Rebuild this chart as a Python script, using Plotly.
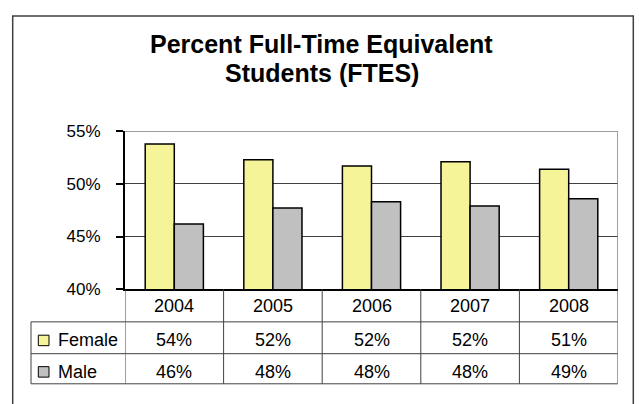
import plotly.graph_objects as go

# ---- data ----
years = ["2004", "2005", "2006", "2007", "2008"]
female = [53.8, 52.3, 51.7, 52.1, 51.4]
male = [46.2, 47.7, 48.3, 47.9, 48.6]
series_names = ["Female", "Male"]
series_colors = ["#F6F498", "#C0C0C0"]
title_lines = ["Percent Full-Time Equivalent", "Students (FTES)"]
y_ticks = [40, 45, 50, 55]

W, H = 639, 404
FONT = "Liberation Sans, Arial, sans-serif"


def px(x):
    return x / W


def py(y):
    return (H - y) / H


fig = go.Figure()
series = [female, male]
for name, vals, col in zip(series_names, series, series_colors):
    fig.add_trace(go.Bar(
        x=years, y=vals, name=name,
        marker=dict(color=col, line=dict(color="black", width=1.5)),
        hovertemplate="%{x}: %{y:.1f}%<extra>" + name + "</extra>",
    ))

n = len(years)
shapes = []
annotations = []

# plot-area top/right border (gray)
shapes.append(dict(type="line", xref="x", yref="y", x0=-0.5, x1=n - 0.5, y0=y_ticks[-1], y1=y_ticks[-1],
                   line=dict(color="#808080", width=1.5), layer="above"))
shapes.append(dict(type="line", xref="x", yref="y", x0=n - 0.5, x1=n - 0.5, y0=y_ticks[0], y1=y_ticks[-1],
                   line=dict(color="#808080", width=1.5), layer="above"))

# outer chart border (open at bottom)
bx0, bx1, by0 = px(12.7), px(633.3), py(7.3)
shapes.append(dict(type="path", xref="paper", yref="paper",
                   path=f"M {bx0},-0.05 L {bx0},{by0} L {bx1},{by0} L {bx1},-0.05",
                   line=dict(color="#404040", width=1.5)))

# data table
t_top, r1, r2, r3 = 294, 328.3, 361.7, 393.3
tcol = "#404040"
for k in range(n + 1):
    shapes.append(dict(type="line", xref="x", yref="paper", x0=k - 0.5, x1=k - 0.5,
                       y0=py(t_top), y1=py(r3), line=dict(color=tcol, width=1)))
shapes.append(dict(type="line", xref="paper", yref="paper", x0=px(31), x1=px(31),
                   y0=py(r1), y1=py(r3), line=dict(color=tcol, width=1)))
for yy in (r1, r2, r3):
    shapes.append(dict(type="line", xref="paper", yref="paper", x0=px(31), x1=px(617.7),
                       y0=py(yy), y1=py(yy), line=dict(color=tcol, width=1)))

row_centers = [347.8, 380.8]
for i, y in enumerate(years):
    annotations.append(dict(xref="x", yref="paper", x=i, y=py(311.7), text=y, showarrow=False,
                            xanchor="center", yanchor="middle", font=dict(family=FONT, size=18, color="black")))
for name, vals, col, rc in zip(series_names, series, series_colors, row_centers):
    shapes.append(dict(type="rect", xref="paper", yref="paper", x0=px(38.3), x1=px(49),
                       y0=py(rc + 5.5), y1=py(rc - 5.5), fillcolor=col, line=dict(color="black", width=1)))
    annotations.append(dict(xref="paper", yref="paper", x=px(56), y=py(rc), text=name, showarrow=False,
                            xanchor="left", yanchor="middle", font=dict(family=FONT, size=18, color="black")))
    for i, v in enumerate(vals):
        annotations.append(dict(xref="x", yref="paper", x=i, y=py(rc), text=f"{v:.0f}%", showarrow=False,
                                xanchor="center", yanchor="middle",
                                font=dict(family=FONT, size=18, color="black")))

# title
for line, yc in zip(title_lines, [36.3, 66.7]):
    annotations.append(dict(xref="paper", yref="paper", x=px(321.7), y=py(yc), text=line, showarrow=False,
                            xanchor="center", yanchor="middle",
                            font=dict(family=FONT, size=25, color="black", weight="bold")))

fig.update_layout(
    width=W, height=H, autosize=False,
    margin=dict(l=0, r=0, t=0, b=0),
    paper_bgcolor="white", plot_bgcolor="white",
    barmode="group", bargap=0.41, bargroupgap=0,
    showlegend=False,
    font=dict(family=FONT, color="black"),
    xaxis=dict(domain=[px(125), px(618)], range=[-0.5, n - 0.5], showticklabels=False, ticks="",
               showline=True, linecolor="black", linewidth=2, showgrid=False, fixedrange=True),
    yaxis=dict(domain=[py(294), py(128.3)], range=[y_ticks[0], y_ticks[-1]], tickvals=y_ticks,
               ticktext=[f"{v}%" for v in y_ticks], ticks="outside", ticklen=7, tickcolor="black",
               tickwidth=1.5, ticklabelstandoff=12,
               tickfont=dict(family=FONT, size=17, color="black"),
               showline=True, linecolor="black", linewidth=2,
               showgrid=True, gridcolor="#404040", gridwidth=1, fixedrange=True),
    shapes=shapes, annotations=annotations,
)

fig.write_html("out.html", config={"displayModeBar": False},
               post_script="document.body.style.margin='0';document.body.style.padding='0';")
